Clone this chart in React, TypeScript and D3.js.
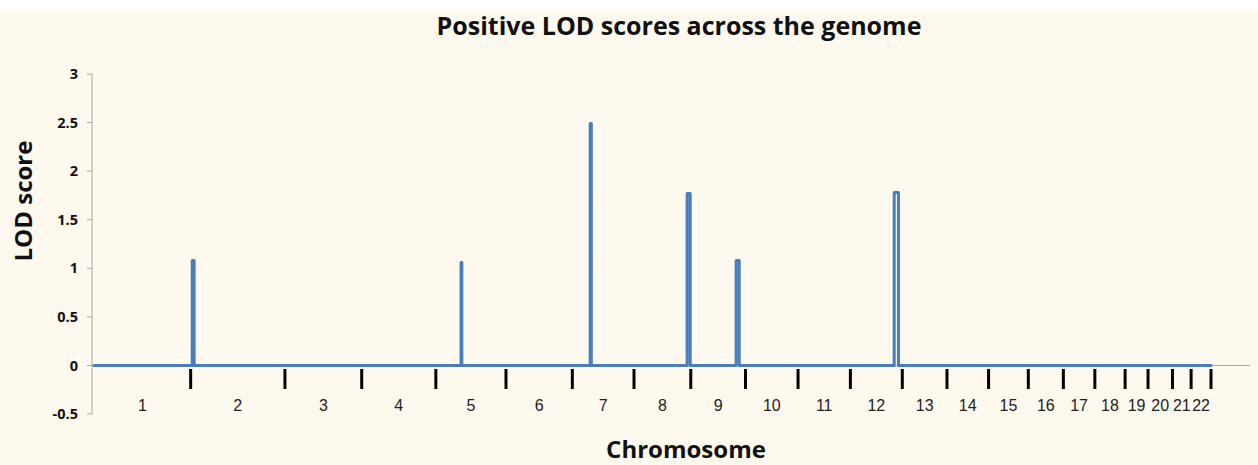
import React from 'react';
import * as d3 from 'd3';

const chromosomes = ['1', '2', '3', '4', '5', '6', '7', '8', '9', '10', '11', '12', '13', '14', '15', '16', '17', '18', '19', '20', '21', '22'];
const chromLengthMb = [249.3, 243.2, 198.0, 191.2, 180.9, 171.1, 159.1, 146.4, 141.2, 135.5, 135.0, 133.9, 115.2, 107.3, 102.5, 90.4, 81.2, 78.1, 59.1, 63.0, 48.1, 51.3];

// positive LOD peaks: chromosome, start / end (Mb within chromosome), LOD
const peakChrom = ['2', '5', '7', '8', '9', '12'];
const peakStartMb = [4, 65, 46, 137, 117, 113];
const peakEndMb = [9, 67, 49, 145, 125, 124];
const peakLod = [1.08, 1.06, 2.49, 1.77, 1.08, 1.78];

const yTicks = [-0.5, 0, 0.5, 1, 1.5, 2, 2.5, 3];

const W = 1258;
const H = 465;
const font = '"Open Sans", "DejaVu Sans", sans-serif';
const lineBlue = '#4a7ebb';

export default function App() {
  // cumulative offsets of each chromosome
  const offsets: number[] = [];
  let acc = 0;
  chromLengthMb.forEach(l => { offsets.push(acc); acc += l; });
  const total = acc;
  const offsetOf = (c: string) => offsets[chromosomes.indexOf(c)];

  const x = d3.scaleLinear().domain([0, total]).range([94, 1211]);
  const y = d3.scaleLinear().domain([-0.5, 3]).range([414, 74]);

  // build the LOD trace: zero everywhere except the peaks
  const pts: [number, number][] = [[0, 0]];
  peakChrom.forEach((c, i) => {
    const s = offsetOf(c) + peakStartMb[i];
    const e = offsetOf(c) + peakEndMb[i];
    pts.push([s, 0], [s, peakLod[i]], [e, peakLod[i]], [e, 0]);
  });
  pts.push([total, 0]);

  const line = d3.line<[number, number]>().x(d => x(d[0])).y(d => y(d[1]));

  return (
    <svg width={W} height={H} style={{ position: 'absolute', left: 0, top: 0, display: 'block' }}>
      <rect x={0} y={0} width={W} height={H} fill="#ffffff" />
      <rect x={0} y={10} width={W} height={H - 10} fill="#fdf9ef" />

      <text x={679} y={35} textAnchor="middle" fontFamily={font} fontWeight="bold" fontSize={25} fill="#111">
        Positive LOD scores across the genome
      </text>

      {/* y axis */}
      <line x1={92} x2={92} y1={y(3)} y2={y(-0.5)} stroke="#a6a6a6" strokeWidth={1} />
      {yTicks.map(t => (
        <g key={t}>
          <line x1={87} x2={92} y1={y(t)} y2={y(t)} stroke="#a6a6a6" strokeWidth={1} />
          <text x={78} y={y(t)} dy="0.35em" textAnchor="end" fontFamily={font} fontWeight="bold" fontSize={14.5} fill="#111">
            {t}
          </text>
        </g>
      ))}
      <text transform={`translate(32,201) rotate(-90)`} textAnchor="middle" fontFamily={font} fontWeight="bold" fontSize={24} fill="#111">
        LOD score
      </text>

      {/* category axis line */}
      <line x1={92} x2={1250} y1={y(0)} y2={y(0)} stroke="#a6a6a6" strokeWidth={1} />

      {/* chromosome boundaries */}
      {chromosomes.map((c, i) => (
        <g key={c}>
          <line x1={x(offsets[i] + chromLengthMb[i])} x2={x(offsets[i] + chromLengthMb[i])} y1={369} y2={389} stroke="#000" strokeWidth={3} />
          <text x={x(offsets[i] + chromLengthMb[i] / 2)} y={411} textAnchor="middle" fontFamily='"Liberation Sans", Arial, sans-serif' fontSize={16} fill="#222">
            {c}
          </text>
        </g>
      ))}

      <path d={line(pts) ?? ''} fill="none" stroke={lineBlue} strokeWidth={3} strokeLinejoin="round" strokeLinecap="round" />

      <text x={686} y={458} textAnchor="middle" fontFamily={font} fontWeight="bold" fontSize={24} fill="#111">
        Chromosome
      </text>
    </svg>
  );
}
